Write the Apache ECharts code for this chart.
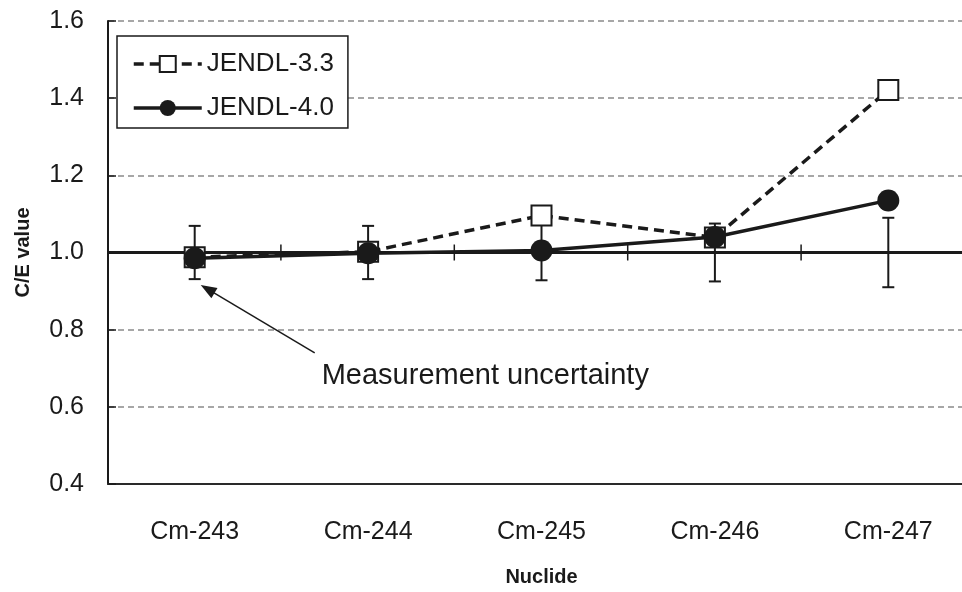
<!DOCTYPE html>
<html>
<head>
<meta charset="utf-8">
<script src="https://cdn.jsdelivr.net/npm/echarts@6/dist/echarts.min.js"></script>
<style>html,body{margin:0;padding:0;background:#fff;overflow:hidden;width:962px;height:592px}#c{width:990px;height:592px}</style>
</head>
<body>
<div id="c"></div>
<script>
var categories = ['Cm-243', 'Cm-244', 'Cm-245', 'Cm-246', 'Cm-247'];
var jendl33 = [0.988, 1.002, 1.096, 1.039, 1.421];
var jendl40 = [0.985, 0.998, 1.005, 1.040, 1.135];
var measured = [1.0, 1.0, 1.0, 1.0, 1.0];
var uncertainty = [0.069, 0.069, 0.072, 0.075, 0.09];
var yTicks = { min: 0.4, max: 1.6, interval: 0.2 };
var refLine = 1.0;

var FONT = 'Liberation Sans, Arial, sans-serif';
var chart = echarts.init(document.getElementById('c'), null, { renderer: 'canvas' });

var errData = categories.map(function (c, i) {
  return [i, measured[i] - uncertainty[i], measured[i] + uncertainty[i]];
});
var tickData = categories.map(function (c, i) { return [i, refLine]; });

var option = {
  animation: false,
  backgroundColor: '#fff',
  grid: { left: 108, top: 21, width: 867, height: 469, containLabel: false },
  legend: {
    left: 117, top: 36, orient: 'vertical',
    padding: [15, 14, 7, 15],
    itemWidth: 68, itemHeight: 20, itemGap: 18,
    borderColor: '#1a1a1a', borderWidth: 1.5, backgroundColor: '#fff',
    lineStyle: { width: 3.5 },
    textStyle: { fontFamily: FONT, fontSize: 26, color: '#1a1a1a' },
    data: ['JENDL-3.3', 'JENDL-4.0']
  },
  xAxis: {
    type: 'category', data: categories, boundaryGap: true,
    axisLine: { lineStyle: { color: '#2a2a2a', width: 2 } },
    axisTick: { show: false },
    axisLabel: { fontFamily: FONT, fontSize: 25, color: '#1a1a1a', margin: 36 },
    name: 'Nuclide', nameLocation: 'middle', nameGap: 83,
    nameTextStyle: { fontFamily: FONT, fontSize: 20, fontWeight: 'bold', color: '#1a1a1a' },
    splitLine: { show: false }
  },
  yAxis: {
    type: 'value', min: yTicks.min, max: yTicks.max, interval: yTicks.interval,
    axisLine: { show: true, lineStyle: { color: '#1a1a1a', width: 2 } },
    axisTick: { show: true, inside: true, length: 8, lineStyle: { color: '#1a1a1a', width: 1.5 } },
    axisLabel: { fontFamily: FONT, fontSize: 25, color: '#1a1a1a', margin: 24,
      formatter: function (v) { return v.toFixed(1); } },
    splitLine: { show: true, lineStyle: { color: '#8a8a8a', width: 1.5, type: [6, 4] } },
    name: 'C/E value', nameLocation: 'middle', nameGap: 75, nameRotate: 90,
    nameTextStyle: { fontFamily: FONT, fontSize: 20, fontWeight: 'bold', color: '#1a1a1a' }
  },
  series: [
    {
      name: 'uncertainty', type: 'custom', z: 1, silent: true,
      data: errData,
      renderItem: function (params, api) {
        var x = api.value(0);
        var lo = api.coord([x, api.value(1)]);
        var hi = api.coord([x, api.value(2)]);
        var hw = 6;
        var st = { stroke: '#1a1a1a', lineWidth: 2 };
        return { type: 'group', children: [
          { type: 'line', shape: { x1: lo[0], y1: lo[1], x2: hi[0], y2: hi[1] }, style: st },
          { type: 'line', shape: { x1: lo[0] - hw, y1: lo[1], x2: lo[0] + hw, y2: lo[1] }, style: st },
          { type: 'line', shape: { x1: hi[0] - hw, y1: hi[1], x2: hi[0] + hw, y2: hi[1] }, style: st }
        ]};
      }
    },
    {
      name: 'refline', type: 'custom', z: 2, silent: true,
      data: tickData,
      renderItem: function (params, api) {
        var p = api.coord([api.value(0), api.value(1)]);
        var bw = api.size([1, 0])[0];
        var st = { stroke: '#1a1a1a', lineWidth: 1.5 };
        var children = [
          { type: 'line', shape: { x1: p[0] + bw / 2 - 0.5, y1: p[1] - 8, x2: p[0] + bw / 2 - 0.5, y2: p[1] + 8 }, style: st }
        ];
        if (params.dataIndex === 0) {
          children.push({ type: 'line', shape: { x1: p[0] - bw / 2, y1: p[1], x2: p[0] - bw / 2 + categories.length * bw, y2: p[1] },
            style: { stroke: '#1a1a1a', lineWidth: 3 } });
        }
        return { type: 'group', children: children };
      }
    },
    {
      name: 'JENDL-3.3', type: 'line', z: 3, data: jendl33,
      symbol: 'rect', symbolSize: 20,
      itemStyle: { color: '#fff', borderColor: '#1a1a1a', borderWidth: 2 },
      lineStyle: { color: '#1a1a1a', width: 3.5, type: [10, 6] }
    },
    {
      name: 'JENDL-4.0', type: 'line', z: 4, data: jendl40,
      symbol: 'circle', symbolSize: 22,
      itemStyle: { color: '#1a1a1a', borderColor: '#1a1a1a', borderWidth: 0 },
      lineStyle: { color: '#1a1a1a', width: 3.5 }
    }
  ]
};
chart.setOption(option);

// annotation anchored to data coordinates of the first category
var tip = chart.convertToPixel({ gridIndex: 0 }, [0, 0.916]);
var tail = chart.convertToPixel({ gridIndex: 0 }, [0, 0.74]);
var tipX = tip[0] + 6, tipY = tip[1];
var tailX = tip[0] + 120, tailY = tail[1];
var ang = Math.atan2(tailY - tipY, tailX - tipX);
var ah = 16, aw = 6;
function pt(d, off) {
  return [tipX + Math.cos(ang) * d - Math.sin(ang) * off, tipY + Math.sin(ang) * d + Math.cos(ang) * off];
}
chart.setOption({
  graphic: [
    { type: 'line', shape: { x1: pt(ah - 2, 0)[0], y1: pt(ah - 2, 0)[1], x2: tailX, y2: tailY },
      style: { stroke: '#1a1a1a', lineWidth: 1.5 }, z: 10 },
    { type: 'polygon', shape: { points: [[tipX, tipY], pt(ah, aw), pt(ah, -aw)] },
      style: { fill: '#1a1a1a' }, z: 10 },
    { type: 'text', left: tailX + 7, top: tailY + 9,
      style: { text: 'Measurement uncertainty', font: '29px ' + FONT, fill: '#1a1a1a' }, z: 10 }
  ]
});
</script>
</body>
</html>
